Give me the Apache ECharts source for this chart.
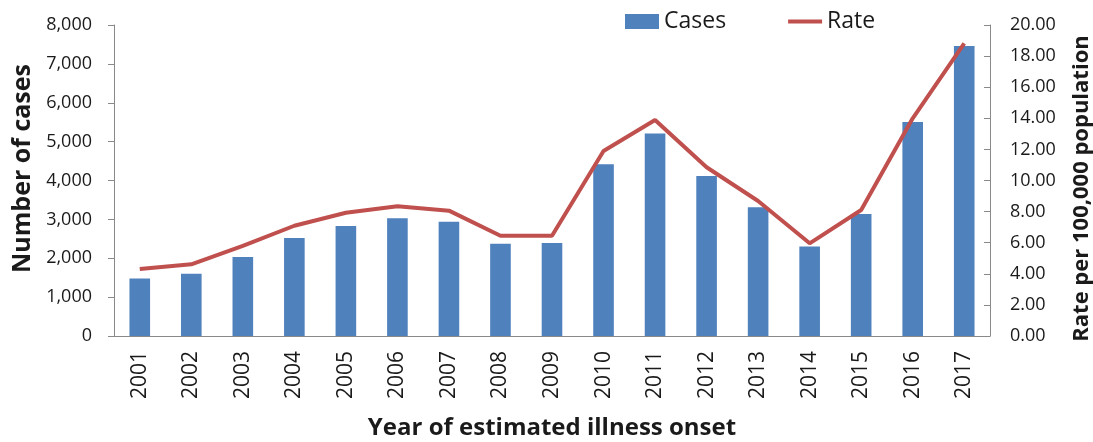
<!DOCTYPE html>
<html>
<head>
<meta charset="utf-8">
<script src="https://cdn.jsdelivr.net/npm/echarts@6/dist/echarts.min.js"></script>
<style>
  html, body { margin: 0; padding: 0; background: #fff; }
  #chart { width: 1093px; height: 442px; }
</style>
</head>
<body>
<div id="chart"></div>
<script>
const years = ['2001', '2002', '2003', '2004', '2005', '2006', '2007', '2008', '2009',
  '2010', '2011', '2012', '2013', '2014', '2015', '2016', '2017'];
const cases = [1480, 1600, 2030, 2520, 2830, 3030, 2940, 2375, 2390,
  4420, 5210, 4115, 3310, 2300, 3140, 5505, 7460];
const rate = [4.31, 4.61, 5.79, 7.09, 7.93, 8.34, 8.06, 6.45, 6.45,
  11.9, 13.89, 10.85, 8.68, 5.96, 8.10, 14.0, 18.82];

const font = 'Open Sans';
const axisGray = '#898989';
const textColor = '#1a1a1a';

const chart = echarts.init(document.getElementById('chart'));
chart.setOption({
  animation: false,
  textStyle: { fontFamily: font },
  legend: {
    left: 620,
    top: 5,
    itemGap: 62,
    itemWidth: 34,
    itemHeight: 15,
    textStyle: { fontSize: 23, color: textColor, fontFamily: font },
    data: [
      { name: 'Cases', icon: 'rect' },
      { name: 'Rate', icon: 'path://M0,0 L34,0 L34,4 L0,4 Z' }
    ]
  },
  grid: { left: 114, right: 103, top: 25, bottom: 106, outerBoundsMode: 'none' },
  xAxis: {
    type: 'category',
    data: years,
    name: 'Year of estimated illness onset',
    nameLocation: 'middle',
    nameGap: 80,
    nameTextStyle: { fontSize: 24, fontWeight: 'bold', color: textColor, fontFamily: font },
    axisLine: { lineStyle: { color: axisGray } },
    axisTick: { length: 7, lineStyle: { color: axisGray } },
    axisLabel: { rotate: 90, fontSize: 21, color: textColor, margin: 15, interval: 0 }
  },
  yAxis: [
    {
      type: 'value',
      min: 0, max: 8000, interval: 1000,
      name: 'Number of cases',
      nameLocation: 'middle',
      nameGap: 78,
      nameTextStyle: {
        fontSize: 25, fontWeight: 'bold', color: textColor, fontFamily: font,
        padding: [0, 0, 0, 24]
      },
      axisLine: { show: true, lineStyle: { color: axisGray } },
      axisTick: { show: true, length: 6, lineStyle: { color: axisGray } },
      splitLine: { show: false },
      axisLabel: {
        fontSize: 18, color: textColor, margin: 22,
        formatter: v => v.toLocaleString('en-US')
      }
    },
    {
      type: 'value',
      min: 0, max: 20, interval: 2,
      name: 'Rate per 100,000 population',
      nameLocation: 'middle',
      nameGap: 81,
      nameRotate: 90,
      nameTextStyle: {
        fontSize: 22, fontWeight: 'bold', color: textColor, fontFamily: font,
        padding: [0, 16, 0, 0]
      },
      axisLine: { show: true, lineStyle: { color: axisGray } },
      axisTick: { show: true, inside: true, length: 6, lineStyle: { color: axisGray } },
      splitLine: { show: false },
      axisLabel: {
        fontSize: 18, color: textColor, margin: 20,
        formatter: v => v.toFixed(2)
      }
    }
  ],
  series: [
    {
      name: 'Cases',
      type: 'bar',
      data: cases,
      barWidth: '40%',
      itemStyle: { color: '#4F81BD' }
    },
    {
      name: 'Rate',
      type: 'line',
      yAxisIndex: 1,
      data: rate,
      symbol: 'none',
      lineStyle: { color: '#C0504D', width: 4 },
      itemStyle: { color: '#C0504D' }
    }
  ]
});
</script>
</body>
</html>
